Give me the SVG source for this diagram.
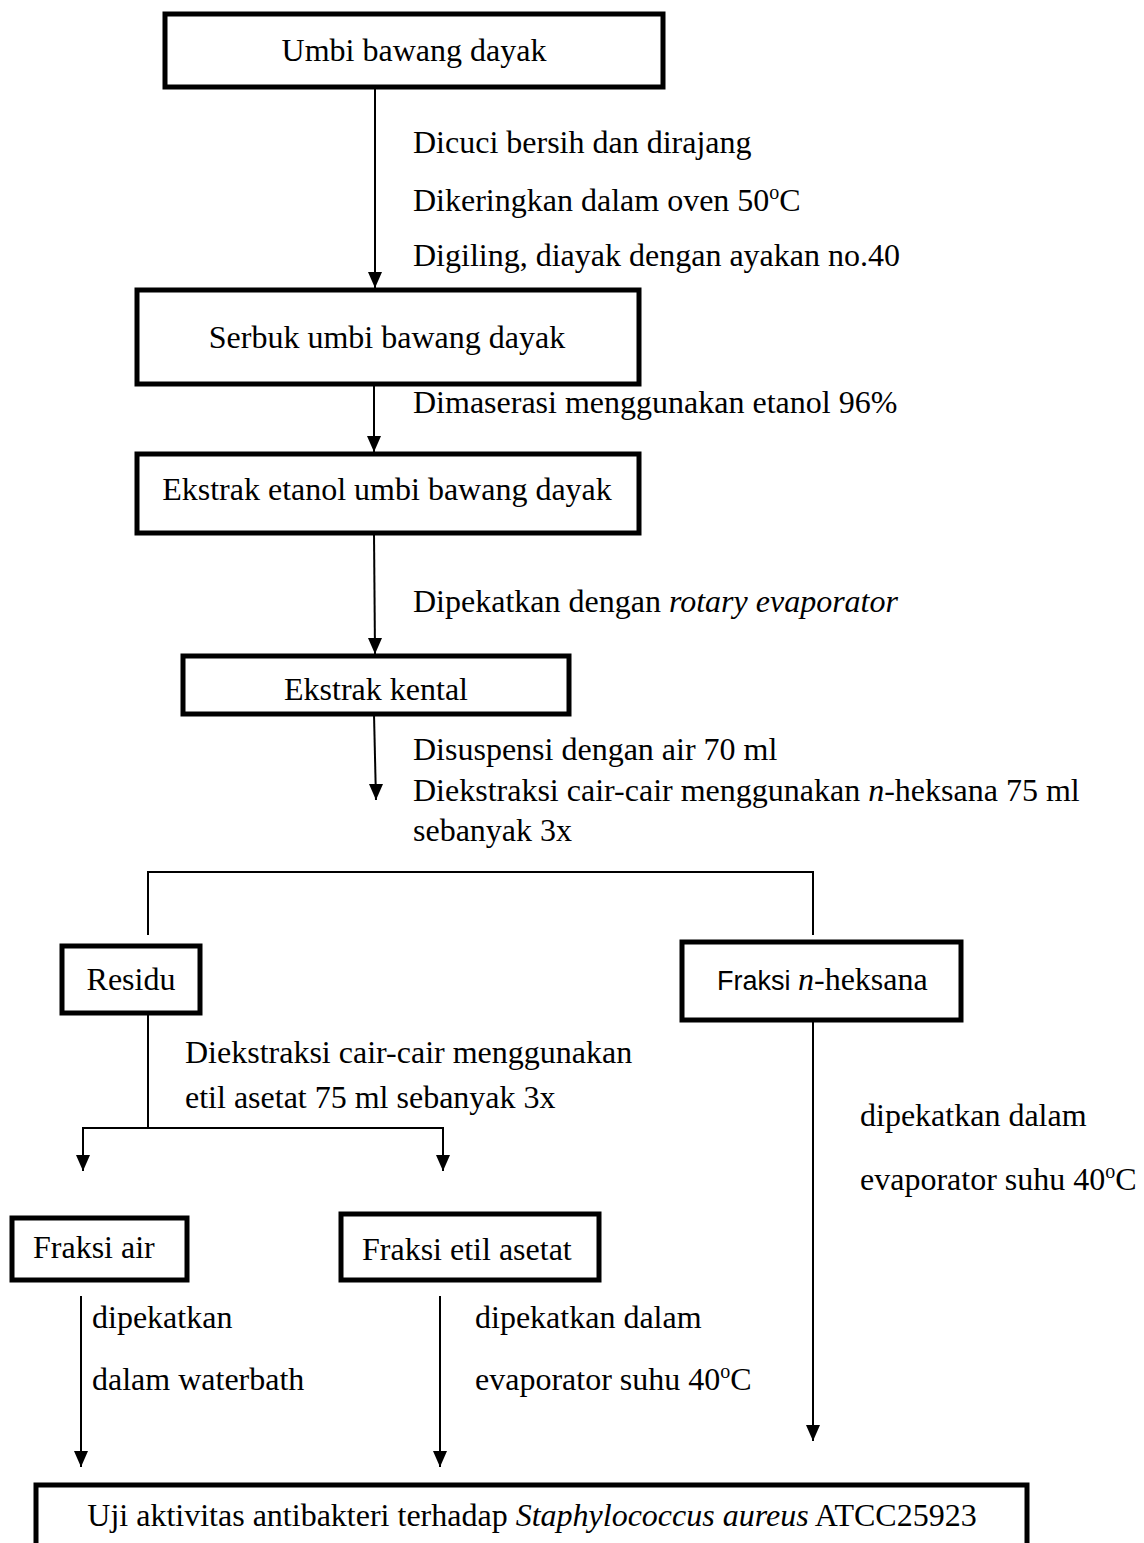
<svg xmlns="http://www.w3.org/2000/svg" width="1144" height="1543" viewBox="0 0 1144 1543">
<style>
.box{fill:#fff;stroke:#000;stroke-width:5}
.ln{fill:none;stroke:#000;stroke-width:2}
text{font-family:"Liberation Serif","Times New Roman",serif;font-size:32px;fill:#000}
.c{text-anchor:middle}
.i{font-style:italic}
.sup{font-size:20px}
.sans{font-family:"Liberation Sans",Arial,sans-serif;font-size:27px}
</style>
<defs>
<marker id="arr" markerWidth="14" markerHeight="16" refX="7" refY="16" orient="0" markerUnits="userSpaceOnUse" viewBox="0 0 14 16">
<path d="M0,0 L14,0 L7,16 Z" fill="#000"/>
</marker>
</defs>
<g id="connectors">
<line class="ln" x1="375" y1="88" x2="375" y2="288" marker-end="url(#arr)"/>
<line class="ln" x1="374" y1="385" x2="374" y2="452" marker-end="url(#arr)"/>
<line class="ln" x1="374" y1="533" x2="375" y2="654" marker-end="url(#arr)"/>
<line class="ln" x1="374" y1="714" x2="376" y2="800" marker-end="url(#arr)"/>
<polyline class="ln" points="148,935 148,872 813,872 813,935"/>
<line class="ln" x1="148" y1="1013" x2="148" y2="1128"/>
<polyline class="ln" points="83,1160 83,1128 443,1128 443,1160"/>
<line class="ln" x1="83" y1="1128" x2="83" y2="1171" marker-end="url(#arr)"/>
<line class="ln" x1="443" y1="1128" x2="443" y2="1171" marker-end="url(#arr)"/>
<line class="ln" x1="813" y1="1022" x2="813" y2="1441" marker-end="url(#arr)"/>
<line class="ln" x1="81" y1="1296" x2="81" y2="1467" marker-end="url(#arr)"/>
<line class="ln" x1="440" y1="1296" x2="440" y2="1467" marker-end="url(#arr)"/>
</g>
<g id="labels">
<text x="413" y="153">Dicuci bersih dan dirajang</text>
<text x="413" y="211">Dikeringkan dalam oven 50<tspan class="sup" dy="-12">o</tspan><tspan dy="12">C</tspan></text>
<text x="413" y="266">Digiling, diayak dengan ayakan no.40</text>
<text x="413" y="413">Dimaserasi menggunakan etanol 96%</text>
<text x="413" y="612">Dipekatkan dengan <tspan class="i">rotary evaporator</tspan></text>
<text x="413" y="760">Disuspensi dengan air 70 ml</text>
<text x="413" y="801">Diekstraksi cair-cair menggunakan <tspan class="i">n</tspan>-heksana 75 ml</text>
<text x="413" y="841">sebanyak 3x</text>
<text x="185" y="1063">Diekstraksi cair-cair menggunakan</text>
<text x="185" y="1108">etil asetat 75 ml sebanyak 3x</text>
<text x="860" y="1126">dipekatkan dalam</text>
<text x="860" y="1190">evaporator suhu 40<tspan class="sup" dy="-12">o</tspan><tspan dy="12">C</tspan></text>
<text x="92" y="1328">dipekatkan</text>
<text x="92" y="1390">dalam waterbath</text>
<text x="475" y="1328">dipekatkan dalam</text>
<text x="475" y="1390">evaporator suhu 40<tspan class="sup" dy="-12">o</tspan><tspan dy="12">C</tspan></text>
</g>
<g id="n1"><rect class="box" x="165" y="14" width="498" height="73"/><text class="c" x="414" y="61">Umbi bawang dayak</text></g>
<g id="n2"><rect class="box" x="137" y="290" width="502" height="94"/><text class="c" x="387" y="348">Serbuk umbi bawang dayak</text></g>
<g id="n3"><rect class="box" x="137" y="454" width="502" height="79"/><text class="c" x="387" y="500">Ekstrak etanol umbi bawang dayak</text></g>
<g id="n4"><rect class="box" x="183" y="656" width="386" height="58"/><text class="c" x="376" y="700">Ekstrak kental</text></g>
<g id="n5"><rect class="box" x="62" y="946" width="138" height="67"/><text class="c" x="131" y="990">Residu</text></g>
<g id="n6"><rect class="box" x="682" y="942" width="279" height="78"/><text x="717" y="990"><tspan class="sans">Fraksi </tspan><tspan class="i">n</tspan>-heksana</text></g>
<g id="n7"><rect class="box" x="12" y="1218" width="175" height="62"/><text x="33" y="1258">Fraksi air</text></g>
<g id="n8"><rect class="box" x="341" y="1214" width="258" height="66"/><text x="362" y="1260">Fraksi etil asetat</text></g>
<g id="n9"><rect class="box" x="36" y="1485" width="991" height="70"/><text class="c" x="532" y="1526">Uji aktivitas antibakteri terhadap <tspan class="i">Staphylococcus aureus</tspan> ATCC25923</text></g>
</svg>
